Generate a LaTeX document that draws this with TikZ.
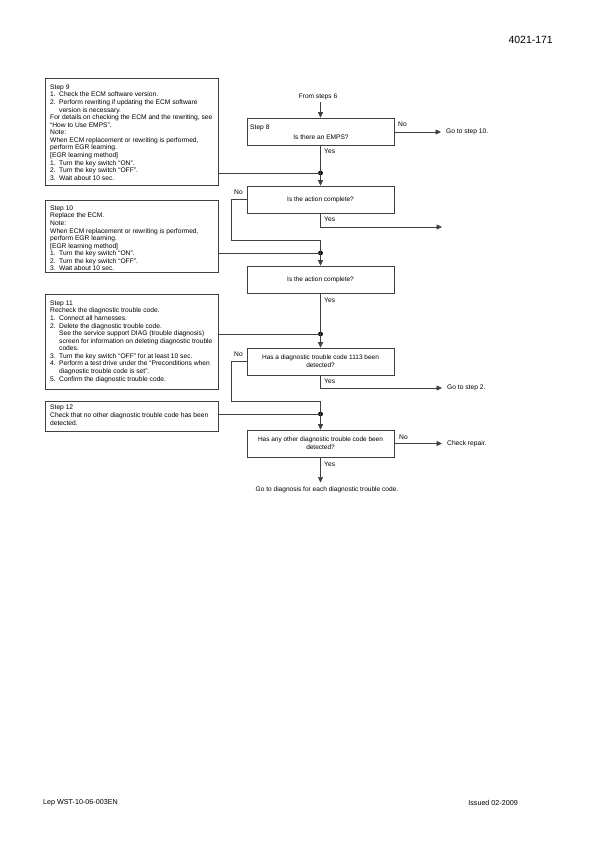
\documentclass[tikz,border=0pt]{standalone}
\usepackage{fontspec}
\setmainfont{Liberation Sans}
\usetikzlibrary{arrows.meta}
\newcommand{\itm}[2]{\makebox[9bp][l]{#1}#2}
\newcommand{\cnt}[1]{\hspace*{9bp}#1}
\begin{document}
\begin{tikzpicture}[x=1bp,y=-1bp,
  txt/.style={font=\fontsize{6.7}{7.6}\selectfont, inner sep=0pt, align=left},
  ctxt/.style={font=\fontsize{6.6}{7.6}\selectfont, inner sep=0pt, align=center},
  stepbox/.style={draw=black!75, line width=0.6pt, inner sep=0pt, anchor=north west},
  qbox/.style={draw=black!75, line width=0.6pt, minimum width=147bp, minimum height=27bp, inner sep=0pt, align=center, font=\fontsize{6.5}{8}\selectfont},
  conn/.style={draw=black!75, line width=0.6pt},
  arr/.style={conn, -{Triangle[length=5.5bp,width=5bp]}},
  jdot/.style={circle, fill=black, inner sep=0pt, minimum size=4.8bp}]
\useasboundingbox (0,0) rectangle (595,842);
\fill[white] (0,0) rectangle (595,842);

% header / footer
\node[font=\fontsize{10.5}{12}\selectfont, inner sep=0pt, anchor=east] (hdr) at (553,40) {4021-171};
\node[font=\fontsize{7.2}{9}\selectfont, inner sep=0pt, anchor=west] (ftl) at (43,803) {Lep WST-10-06-003EN};
\node[font=\fontsize{7.2}{9}\selectfont, inner sep=0pt, anchor=east] (ftr) at (518,803) {Issued 02-2009};

% left step boxes
\node[stepbox, minimum width=173bp, minimum height=107bp] (b9) at (45,78) {};
\node[txt, anchor=north west] (t9) at (50,84.5) {Step 9\\
\itm{1.}{Check the ECM software version.}\\
\itm{2.}{Perform rewriting if updating the ECM software}\\
\cnt{version is necessary.}\\
For details on checking the ECM and the rewriting, see\\
“How to Use EMPS”.\\
Note:\\
When ECM replacement or rewriting is performed,\\
perform EGR learning.\\
{[EGR learning method]}\\
\itm{1.}{Turn the key switch “ON”.}\\
\itm{2.}{Turn the key switch “OFF”.}\\
\itm{3.}{Wait about 10 sec.}};

\node[stepbox, minimum width=173bp, minimum height=72bp] (b10) at (45,200) {};
\node[txt, anchor=north west] (t10) at (50,205.5) {Step 10\\
Replace the ECM.\\
Note:\\
When ECM replacement or rewriting is performed,\\
perform EGR learning.\\
{[EGR learning method]}\\
\itm{1.}{Turn the key switch “ON”.}\\
\itm{2.}{Turn the key switch “OFF”.}\\
\itm{3.}{Wait about 10 sec.}};

\node[stepbox, minimum width=173bp, minimum height=95bp] (b11) at (45,294) {};
\node[txt, anchor=north west] (t11) at (50,300.5) {Step 11\\
Recheck the diagnostic trouble code.\\
\itm{1.}{Connect all harnesses.}\\
\itm{2.}{Delete the diagnostic trouble code.}\\
\cnt{See the service support DIAG (trouble diagnosis)}\\
\cnt{screen for information on deleting diagnostic trouble}\\
\cnt{codes.}\\
\itm{3.}{Turn the key switch “OFF” for at least 10 sec.}\\
\itm{4.}{Perform a test drive under the “Preconditions when}\\
\cnt{diagnostic trouble code is set”.}\\
\itm{5.}{Confirm the diagnostic trouble code.}};

\node[stepbox, minimum width=173bp, minimum height=30bp] (b12) at (45,401) {};
\node[txt, anchor=north west] (t12) at (50,405) {Step 12\\
Check that no other diagnostic trouble code has been\\
detected.};

% main column
\node[ctxt] (from6) at (318,97) {From steps 6};
\node[qbox] (s8) at (320.5,131.5) {};
\node[txt, anchor=west] (s8l) at (250,127.7) {Step 8};
\node[ctxt] (s8q) at (321,137.5) {Is there an EMPS?};
\node[txt, anchor=west] (go10) at (446,132) {Go to step 10.};
\node[jdot] (d1) at (320.5,173) {};
\node[qbox] (q2) at (320.5,199.5) {Is the action complete?};
\node[jdot] (d2) at (320.5,253) {};
\node[qbox] (q3) at (320.5,279.5) {Is the action complete?};
\node[jdot] (d3) at (320.5,334) {};
\node[qbox] (q4) at (320.5,361.5) {Has a diagnostic trouble code 1113 been\\detected?};
\node[txt, anchor=west] (go2) at (447,388) {Go to step 2.};
\node[jdot] (d4) at (320.5,414) {};
\node[qbox] (q5) at (320.5,443.5) {Has any other diagnostic trouble code been\\detected?};
\node[txt, anchor=west] (chk) at (447,443.5) {Check repair.};
\node[ctxt, anchor=north] (fin) at (327,487) {Go to diagnosis for each diagnostic trouble code.};

\coordinate (g10) at (441,132);
\coordinate (y2) at (442,227);
\coordinate (n2) at (231,240);
\coordinate (n4) at (231,401);
\coordinate (y4) at (442,388);
\coordinate (n5) at (442,443.5);
\coordinate (ftop) at (320.5,482.5);

% connectors
\draw[arr] (from6.south -| s8.north) ++(0,2) -- (s8.north);
\draw[arr] (s8.east |- g10) -- (g10);
\draw[conn] (s8.south) -- (d1.center);
\draw[conn] (b9.east |- d1) -- (d1.center);
\draw[arr] (d1.center) -- (q2.north);
\draw[conn] (q2.west) -| (n2) -- (n2 -| d2) -- (d2.center);
\draw[arr] (q2.south) |- (y2);
\draw[conn] (b10.east |- d2) -- (d2.center);
\draw[arr] (d2.center) -- (q3.north);
\draw[conn] (q3.south) -- (d3.center);
\draw[conn] (b11.east |- d3) -- (d3.center);
\draw[arr] (d3.center) -- (q4.north);
\draw[conn] (q4.west) -| (n4) -- (n4 -| d4) -- (d4.center);
\draw[arr] (q4.south) |- (y4);
\draw[conn] (b12.east |- d4) -- (d4.center);
\draw[arr] (d4.center) -- (q5.north);
\draw[arr] (q5.east) -- (n5);
\draw[arr] (q5.south) -- (ftop);

% labels
\node[txt, anchor=west] (l1) at (398,124) {No};
\node[txt, anchor=west] (l2) at (324,151) {Yes};
\node[txt, anchor=west] (l3) at (234,192) {No};
\node[txt, anchor=west] (l4) at (324,219) {Yes};
\node[txt, anchor=west] (l5) at (324,300) {Yes};
\node[txt, anchor=west] (l6) at (234,354) {No};
\node[txt, anchor=west] (l7) at (324,381) {Yes};
\node[txt, anchor=west] (l8) at (399,437) {No};
\node[txt, anchor=west] (l9) at (324,464) {Yes};
\end{tikzpicture}
\end{document}
